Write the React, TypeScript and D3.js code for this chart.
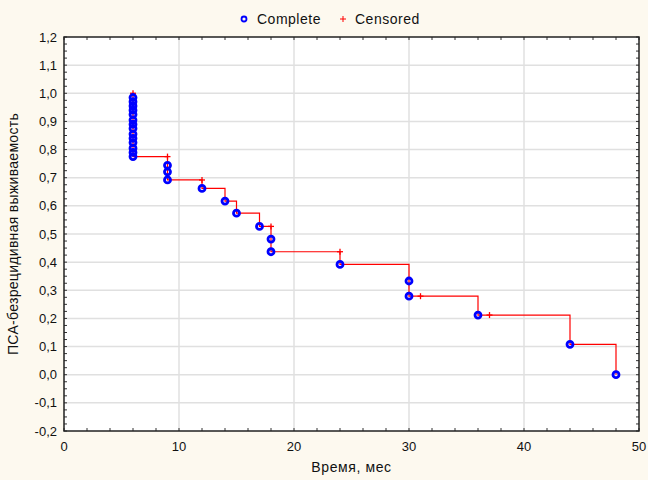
import React from "react";
import * as d3 from "d3";

// Complete (event) observations: [time, survival]
const completeTimes = [6, 6, 6, 6, 6, 6, 6, 6, 6, 6, 6, 6, 6, 6, 9, 9, 9, 12, 14, 15, 17, 18, 18, 24, 30, 30, 36, 44, 48];
const completeSurv = [0.985, 0.97, 0.955, 0.94, 0.925, 0.905, 0.89, 0.875, 0.855, 0.84, 0.825, 0.805, 0.79, 0.775, 0.744, 0.721, 0.692, 0.662, 0.617, 0.574, 0.527, 0.482, 0.437, 0.392, 0.333, 0.279, 0.212, 0.108, 0.0];
// Censored observations
const censTimes = [6, 9, 12, 18, 24, 31, 37];
const censSurv = [1.0, 0.775, 0.692, 0.527, 0.437, 0.279, 0.212];

const xTicks = [0, 10, 20, 30, 40, 50];
const yTicks = [-0.2, -0.1, 0, 0.1, 0.2, 0.3, 0.4, 0.5, 0.6, 0.7, 0.8, 0.9, 1.0, 1.1, 1.2];

const W = 648, H = 480;
const M = { left: 64, right: 9, top: 37, bottom: 49 };

export default function App() {
  const x = d3.scaleLinear().domain([0, 50]).range([M.left, W - M.right]);
  const y = d3.scaleLinear().domain([-0.2, 1.2]).range([H - M.bottom, M.top]);
  const x0 = M.left, x1 = W - M.right, y0 = H - M.bottom, y1 = M.top;

  type Obs = { t: number; s: number };
  const all: Obs[] = [];
  censTimes.forEach((t, i) => all.push({ t, s: censSurv[i] }));
  completeTimes.forEach((t, i) => all.push({ t, s: completeSurv[i] }));
  all.sort((a, b) => a.t - b.t || b.s - a.s);
  let d = `M${x(all[0].t)},${y(all[0].s)}`;
  let prevS = all[0].s;
  for (let i = 1; i < all.length; i++) {
    const o = all[i];
    d += `H${x(o.t)}`;
    if (o.s !== prevS) d += `V${y(o.s)}`;
    prevS = o.s;
  }

  const minorX = d3.range(0, 50.001, 2);
  const minorY = d3.range(-0.2, 1.2001, 0.025);
  const fmt = (v: number) => d3.format(".1f")(v).replace(".", ",").replace("−", "-");
  const font = "'Liberation Sans', Arial, sans-serif";

  return (
    <svg width={W} height={H} style={{ position: "absolute", left: 0, top: 0, background: "#fdf9ef" }}>
      <rect x={0} y={0} width={W} height={H} fill="#fdf9ef" />
      <rect x={x0} y={y1} width={x1 - x0} height={y0 - y1} fill="#ffffff" />
      {xTicks.slice(1, -1).map((t) => (
        <line key={"gx" + t} x1={x(t)} x2={x(t)} y1={y1} y2={y0} stroke="#e0e0e0" strokeWidth={1.5} />
      ))}
      {yTicks.slice(1, -1).map((t) => (
        <line key={"gy" + t} x1={x0} x2={x1} y1={y(t)} y2={y(t)} stroke="#e0e0e0" strokeWidth={1.5} />
      ))}
      {minorX.map((t, i) => (
        <g key={"mx" + i} stroke="#333" strokeWidth={1}>
          <line x1={x(t)} x2={x(t)} y1={y0} y2={y0 - 3} />
          <line x1={x(t)} x2={x(t)} y1={y1} y2={y1 + 3} />
        </g>
      ))}
      {minorY.map((t, i) => (
        <g key={"my" + i} stroke="#333" strokeWidth={1}>
          <line x1={x0} x2={x0 + 3} y1={y(t)} y2={y(t)} />
          <line x1={x1} x2={x1 - 3} y1={y(t)} y2={y(t)} />
        </g>
      ))}
      <rect x={x0} y={y1} width={x1 - x0} height={y0 - y1} fill="none" stroke="#222" strokeWidth={1.5} />
      {xTicks.map((t) => (
        <text key={"xl" + t} x={x(t)} y={y0 + 20} textAnchor="middle" fontFamily={font} fontSize={13} fill="#111">{t}</text>
      ))}
      {yTicks.map((t) => (
        <text key={"yl" + t} x={x0 - 7} y={y(t) + 4.5} textAnchor="end" fontFamily={font} fontSize={13} fill="#111">{fmt(t)}</text>
      ))}
      <text x={(x0 + x1) / 2} y={472} textAnchor="middle" fontFamily={font} fontSize={14} fill="#111" letterSpacing={0.6}>Время, мес</text>
      <text transform={`translate(18,${(y0 + y1) / 2}) rotate(-90)`} textAnchor="middle" fontFamily={font} fontSize={14} fill="#111" letterSpacing={0.3}>ПСА-безрецидивная выживаемость</text>
      <path d={d} fill="none" stroke="#ff0000" strokeWidth={1.2} />
      {censTimes.map((t, i) => (
        <g key={"c" + i} stroke="#ff0000" strokeWidth={1.3}>
          <line x1={x(t) - 3} x2={x(t) + 3} y1={y(censSurv[i])} y2={y(censSurv[i])} />
          <line x1={x(t)} x2={x(t)} y1={y(censSurv[i]) - 3} y2={y(censSurv[i]) + 3} />
        </g>
      ))}
      {completeTimes.map((t, i) => (
        <circle key={"p" + i} cx={x(t)} cy={y(completeSurv[i])} r={3} fill="none" stroke="#0000ff" strokeWidth={2.8} />
      ))}
      <circle cx={244} cy={19} r={2.5} fill="none" stroke="#0000ff" strokeWidth={1.8} />
      <text x={257} y={24} fontFamily={font} fontSize={14} fill="#111" letterSpacing={0.5}>Complete</text>
      <g stroke="#ff0000" strokeWidth={1}>
        <line x1={340} x2={346} y1={19} y2={19} />
        <line x1={343} x2={343} y1={16} y2={22} />
      </g>
      <text x={355} y={24} fontFamily={font} fontSize={14} fill="#111" letterSpacing={0.5}>Censored</text>
    </svg>
  );
}
